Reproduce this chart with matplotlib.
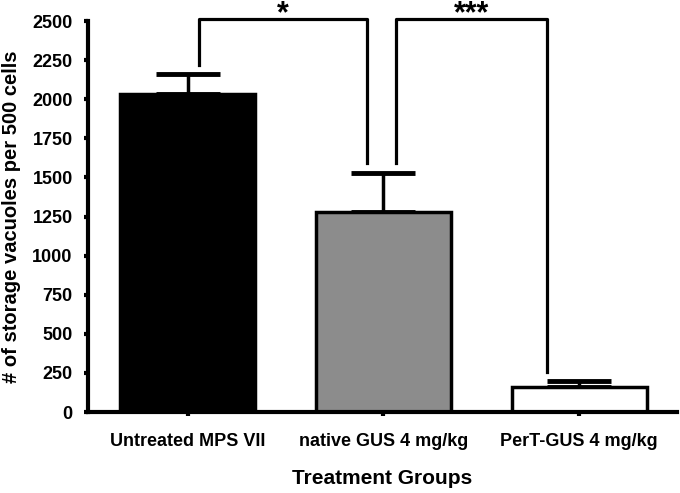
import matplotlib
matplotlib.use('agg')
import matplotlib.pyplot as plt
import numpy as np

groups = ['Untreated MPS VII', 'native GUS 4 mg/kg', 'PerT-GUS 4 mg/kg']
means = [2035, 1278, 160]
err_up = [125, 248, 38]
bar_colors = ['#000000', '#8c8c8c', '#ffffff']

plt.rcParams['font.family'] = ['Liberation Sans', 'DejaVu Sans']
plt.rcParams['font.weight'] = 'bold'

fig = plt.figure(figsize=(6.8, 4.93), dpi=100)
ax = fig.add_axes([0.1294, 0.1643, 0.8662, 0.7931])

x = np.arange(len(groups))
ax.bar(x, means, width=0.69, color=bar_colors, edgecolor='black', linewidth=2.5, zorder=2)
ax.errorbar(x, means, yerr=[[0, 0, 0], err_up], fmt='none', ecolor='black',
            elinewidth=2.5, capsize=23, capthick=3.5, zorder=1)

# significance brackets
lw = 2.3
ax.plot([0.056, 0.056, 0.918, 0.918], [2220, 2513, 2513, 1590], color='black', lw=lw, clip_on=False)
ax.plot([1.066, 1.066, 1.837, 1.837], [1590, 2513, 2513, 255], color='black', lw=lw, clip_on=False)
ax.text(0.485, 2490, '*', ha='center', va='baseline', fontsize=22, fontweight='bold', clip_on=False)
ax.text(1.45, 2490, '***', ha='center', va='baseline', fontsize=22, fontweight='bold', clip_on=False)

ax.set_xlim(-0.51, 2.5)
ax.set_ylim(0, 2500)
ax.set_yticks(np.arange(0, 2501, 250))
ax.set_xticks(x)
ax.set_xticklabels(groups)

for s in ['top', 'right']:
    ax.spines[s].set_visible(False)
for s in ['left', 'bottom']:
    ax.spines[s].set_linewidth(3)

ax.tick_params(axis='y', direction='out', length=3, width=3, labelsize=13, pad=8)
ax.tick_params(axis='x', direction='out', length=3, width=3, labelsize=13, pad=12)
for lab in ax.get_xticklabels() + ax.get_yticklabels():
    lab.set_fontweight('bold')

ax.set_ylabel('# of storage vacuoles per 500 cells', fontsize=14.5, fontweight='bold', labelpad=8)
ax.set_xlabel('Treatment Groups', fontsize=15, fontweight='bold', labelpad=14)

plt.savefig('out.png', dpi=100)
